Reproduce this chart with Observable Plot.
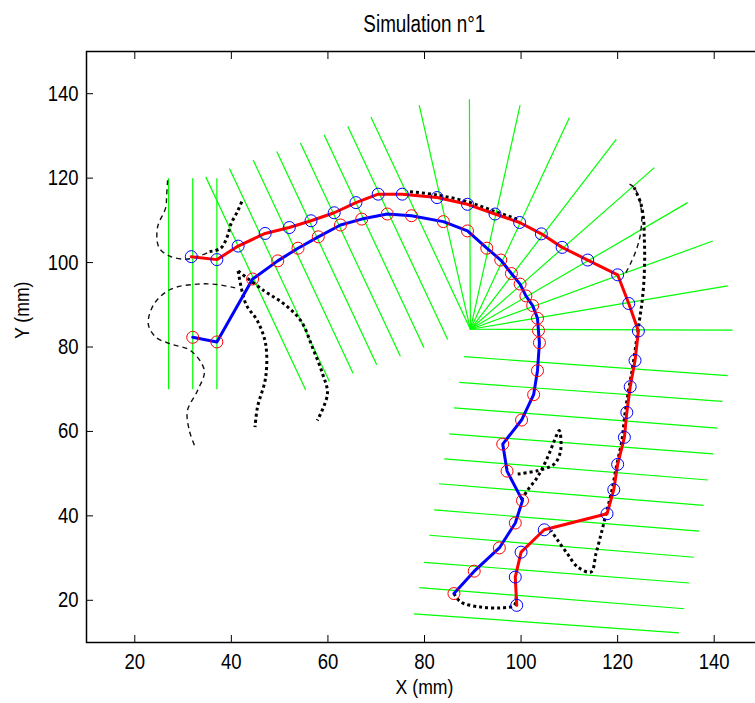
<!DOCTYPE html>
<html><head><meta charset="utf-8">
<script src="https://cdn.jsdelivr.net/npm/d3@7"></script>
<script src="https://cdn.jsdelivr.net/npm/@observablehq/plot@0.6"></script>
<style>
html,body{margin:0;padding:0;background:#fff;overflow:hidden;}
#title{width:762px;box-sizing:border-box;padding-left:86px;padding-top:4px;height:46px;line-height:40px;text-align:center;font-family:"Liberation Sans",Arial,sans-serif;font-size:23px;color:#000;white-space:nowrap;}
#title span{display:inline-block;transform:scaleX(0.82);}
#chart svg{max-width:none !important;display:block;}
</style></head><body>
<div id="title"><span>Simulation n°1</span></div>
<div id="chart"></div>
<script>
// ---- tick labels ----
const xTicks = [20, 40, 60, 80, 100, 120, 140];
const yTicks = [20, 40, 60, 80, 100, 120, 140];

// ---- inner trajectory: red circles joined by the blue line ----
const innerX = [32.0, 37.0, 44.4, 49.6, 53.8, 58.0, 62.6, 67.0, 72.3, 77.3, 83.9, 88.9, 92.9, 95.8, 98.0, 99.8, 101.0, 102.4, 103.4, 103.6, 103.8, 103.4, 102.6, 100.1, 96.2, 97.1, 100.3, 98.8, 95.5, 90.3, 86.1];
const innerY = [82.3, 81.2, 96.1, 100.4, 103.4, 106.1, 108.9, 110.3, 111.5, 111.1, 109.7, 107.5, 103.4, 100.6, 97.4, 94.9, 92.1, 89.8, 86.8, 83.9, 81.0, 74.4, 68.7, 62.7, 57.0, 50.6, 43.6, 38.3, 32.4, 26.9, 21.6];

// ---- outer trajectory: blue circles joined by the red line ----
const outerX = [31.7, 37.0, 41.4, 47.0, 52.0, 56.5, 61.3, 65.8, 70.4, 75.4, 82.6, 88.9, 94.6, 99.7, 104.2, 108.5, 113.8, 120.0, 122.3, 124.3, 123.6, 122.6, 121.9, 121.4, 120.0, 119.2, 117.8, 104.8, 100.0, 98.8, 99.1];
const outerY = [101.4, 100.7, 103.9, 106.9, 108.3, 109.9, 111.8, 114.2, 116.2, 116.2, 115.4, 113.8, 111.5, 109.5, 106.8, 103.6, 100.6, 97.1, 90.3, 83.8, 76.8, 70.6, 64.5, 58.6, 52.2, 46.2, 40.5, 36.7, 31.4, 25.5, 18.8];

// ---- green normal segments ----
const greenX1 = [27, 32, 37,
  55.4, 60.3, 65.2, 70.1, 75.0, 79.9, 84.8,
  89.5, 89.5, 89.5, 89.5, 89.5, 89.5, 89.5, 89.5, 89.5, 89.5, 89.5,
  88.2, 87.2, 86.1, 85.1, 84.1, 83.0, 82.0, 81.0, 79.9, 78.9, 77.8];
const greenY1 = [70, 70, 70,
  69.8, 71.8, 73.8, 75.8, 77.8, 79.8, 81.8,
  84.2, 84.2, 84.2, 84.2, 84.2, 84.2, 84.2, 84.2, 84.2, 84.2, 84.2,
  77.7, 71.6, 65.6, 59.4, 53.5, 47.6, 41.4, 35.4, 29.0, 23.0, 16.8];
const greenX2 = [27, 32, 37,
  34.7, 39.6, 44.5, 49.4, 54.3, 59.2, 64.1,
  68.9, 78.9, 89.3, 99.8, 110.0, 119.7, 127.6, 134.5, 139.7, 142.8, 143.8,
  142.8, 141.7, 140.7, 139.8, 138.7, 137.8, 136.9, 135.8, 134.8, 133.8, 132.7];
const greenY2 = [120, 120, 120,
  120.3, 122.3, 124.3, 126.3, 128.3, 130.3, 132.3,
  134.5, 137.3, 138.7, 137.3, 134.3, 129.2, 122.5, 114.2, 105.1, 94.5, 84.0,
  73.2, 67.1, 60.8, 54.7, 48.5, 42.5, 36.4, 30.2, 24.1, 18.0, 12.3];

// ---- black dashed (thin) paths ----
const dashA = [[26.8,119.5],[26.6,116.0],[26.4,113.0],[24.7,108.3],[25.0,103.6],[27.1,101.6],[30.6,100.8],[33.5,101.6],[35.5,102.6]];
const dashB = [[40.8,94.0],[37.0,94.8],[33.0,94.9],[27.5,93.7],[24.0,90.2],[22.8,85.4],[24.4,82.3],[27.5,80.7],[31.6,79.1],[34.4,74.4],[33.0,69.7],[30.9,64.9],[31.3,60.2],[32.4,56.6]];
const dashC = [[121.7,97.6],[122.6,99.6],[123.8,102.8],[124.5,105.5],[124.8,107.5],[125.0,110.7],[124.5,115.0],[123.4,117.8],[122.4,118.6]];

// ---- black dotted (thick) paths ----
const dotA = [[35.5,102.6],[37.8,103.4],[39.2,106.3],[39.9,109.1],[41.3,112.2],[42.3,114.8]];
const dotB1 = [[41.4,98.0],[43.0,90.2],[45.4,86.2],[47.1,80.7],[47.1,72.8],[45.4,65.7],[44.9,61.0]];
const dotB2 = [[41.4,98.0],[46.8,93.3],[50.9,90.2],[54.4,86.2],[56.8,79.9],[58.9,73.6],[59.9,68.9],[57.8,62.6]];
const dotC = [[123.4,117.8],[124.8,114.0],[125.4,110.0],[125.5,106.7],[125.6,101.2],[125.4,94.9],[125.0,90.2],[124.5,86.2],[123.8,80.7],[123.1,75.2],[122.3,70.0],[121.5,64.0],[120.9,58.0],[119.8,52.0],[118.8,46.0],[117.6,40.5],[116.6,35.8],[115.5,31.0],[114.5,26.7],[111.7,27.9],[109.6,31.0],[107.6,34.2],[106.2,36.5]];
const dotD = [[99.3,49.9],[103.4,50.7],[106.9,52.3],[108.2,55.5],[107.9,60.2],[106.9,57.8],[105.5,53.9],[103.4,49.2],[101.3,46.0],[100.0,43.6]];
const dotE = [[86.1,21.6],[87.5,19.6],[91.6,18.4],[95.8,18.2],[98.6,18.8],[99.0,21.0]];
const dotF = [[77.0,116.8],[82.6,116.0],[88.9,114.4],[94.6,112.1],[99.7,110.1]];

// ---- build tables ----
const inner = innerX.map((x, i) => ({x, y: innerY[i]}));
const outer = outerX.map((x, i) => ({x, y: outerY[i]}));
const green = greenX1.map((x1, i) => ({x1, y1: greenY1[i], x2: greenX2[i], y2: greenY2[i]}));
const toRows = (curves) => curves.flatMap((pts, id) => pts.map(([x, y]) => ({id, x, y})));
const thinRows = toRows([dashA, dashB, dashC]);
const dotRows = toRows([dotA, dotB1, dotB2, dotC, dotD, dotE, dotF]);

const FONT = '"Liberation Sans", Arial, sans-serif';
const plot = Plot.plot({
  width: 762, height: 657,
  marginLeft: 86, marginRight: 0, marginTop: 5, marginBottom: 61,
  style: {fontFamily: FONT, fontSize: "22px", color: "black", background: "white", maxWidth: "none"},
  x: {domain: [10, 150]},
  y: {domain: [10, 150]},
  marks: [
    Plot.link(green, {x1: "x1", y1: "y1", x2: "x2", y2: "y2", stroke: "#00ff00", strokeWidth: 1.2}),
    Plot.line(thinRows, {x: "x", y: "y", z: "id", stroke: "#111", strokeWidth: 1.4, strokeDasharray: "5,4", strokeLinecap: "butt", curve: "catmull-rom"}),
    Plot.line(dotRows, {x: "x", y: "y", z: "id", stroke: "black", strokeWidth: 3, strokeDasharray: "3,3", strokeLinecap: "butt", curve: "catmull-rom"}),
    Plot.line(inner, {x: "x", y: "y", stroke: "#0000ff", strokeWidth: 3}),
    Plot.line(outer, {x: "x", y: "y", stroke: "#ff0000", strokeWidth: 3}),
    Plot.dot(inner, {x: "x", y: "y", r: 6, stroke: "#ff0000", strokeWidth: 1}),
    Plot.dot(outer, {x: "x", y: "y", r: 6, stroke: "#0000ff", strokeWidth: 1}),
    Plot.frame({stroke: "black", strokeWidth: 1.5}),
    Plot.axisX({ticks: xTicks, anchor: "bottom", tickSize: 0, tickPadding: 11, label: null, fontSize: 22}),
    Plot.axisY({ticks: yTicks, anchor: "left", tickSize: 0, tickPadding: 8, label: null, fontSize: 22}),
    Plot.axisX({ticks: xTicks, anchor: "bottom", tickSize: 7, dy: -7, tickFormat: () => "", label: null}),
    Plot.axisX({ticks: xTicks, anchor: "top", tickSize: 7, dy: 7, tickFormat: () => "", label: null}),
    Plot.axisY({ticks: yTicks, anchor: "left", tickSize: 7, dx: 7, tickFormat: () => "", label: null}),
    Plot.axisY({ticks: yTicks, anchor: "right", tickSize: 7, dx: -7, tickFormat: () => "", label: null}),
    Plot.text(["X (mm)"], {text: d => d, frameAnchor: "bottom", dy: 51, fontSize: 21}),
    Plot.text(["Y (mm)"], {text: d => d, frameAnchor: "left", dx: -64, dy: -8, rotate: -90, fontSize: 21})
  ]
});
document.getElementById("chart").appendChild(plot);
// narrow the glyphs like the original's condensed font
plot.querySelectorAll("text").forEach(t => {
  const len = t.getComputedTextLength();
  if (len > 0) {
    t.setAttribute("textLength", (len * 0.84).toFixed(1));
    t.setAttribute("lengthAdjust", "spacingAndGlyphs");
  }
});
</script>
</body></html>
